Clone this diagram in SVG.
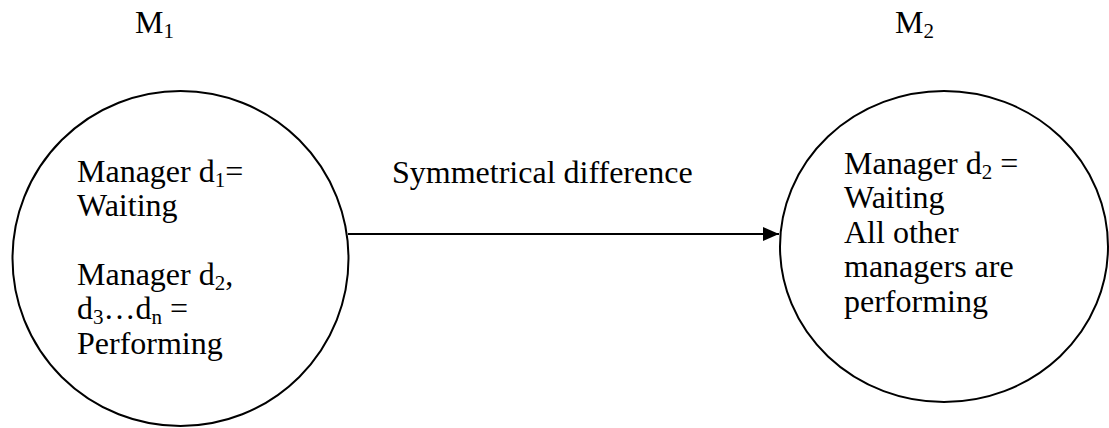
<svg xmlns="http://www.w3.org/2000/svg" width="1109" height="428" viewBox="0 0 1109 428">
<style>
.t{font-family:'Liberation Serif','DejaVu Serif',serif;font-size:32px;fill:#000}
.sub{font-size:21px}
.node{fill:#fff;stroke:#000;stroke-width:2}
.conn{stroke:#000;stroke-width:2;fill:none}
</style>
<defs>
<marker id="arr" markerWidth="16" markerHeight="14" refX="16" refY="7" orient="auto" markerUnits="userSpaceOnUse">
<path d="M0,0 L16,7 L0,14 Z" fill="#000"/>
</marker>
</defs>
<rect width="1109" height="428" fill="#fff"/>
<g id="label-m1"><text class="t" x="135" y="33">M<tspan class="sub" dy="5">1</tspan></text></g>
<g id="label-m2"><text class="t" x="895" y="33">M<tspan class="sub" dy="5">2</tspan></text></g>
<g id="connectors">
<line class="conn" x1="348" y1="234" x2="779" y2="234" marker-end="url(#arr)"/>
<text class="t" x="392" y="183">Symmetrical difference</text>
</g>
<g id="node-m1">
<ellipse class="node" cx="180.5" cy="258.5" rx="168" ry="167.5"/>
<text class="t" x="77" y="182">Manager d<tspan class="sub" dy="5">1</tspan><tspan dy="-5">=</tspan></text>
<text class="t" x="77" y="216">Waiting</text>
<text class="t" x="77" y="285">Manager d<tspan class="sub" dy="5">2</tspan><tspan dy="-5">,</tspan></text>
<text class="t" x="77" y="319">d<tspan class="sub" dy="5">3</tspan><tspan dy="-5">…d</tspan><tspan class="sub" dy="5">n</tspan><tspan dy="-5"> =</tspan></text>
<text class="t" x="77" y="354">Performing</text>
</g>
<g id="node-m2">
<ellipse class="node" cx="944" cy="246.5" rx="164" ry="155.5"/>
<text class="t" x="844" y="174">Manager d<tspan class="sub" dy="5">2</tspan><tspan dy="-5"> =</tspan></text>
<text class="t" x="844" y="208">Waiting</text>
<text class="t" x="844" y="243">All other</text>
<text class="t" x="844" y="277">managers are</text>
<text class="t" x="844" y="312">performing</text>
</g>
</svg>
